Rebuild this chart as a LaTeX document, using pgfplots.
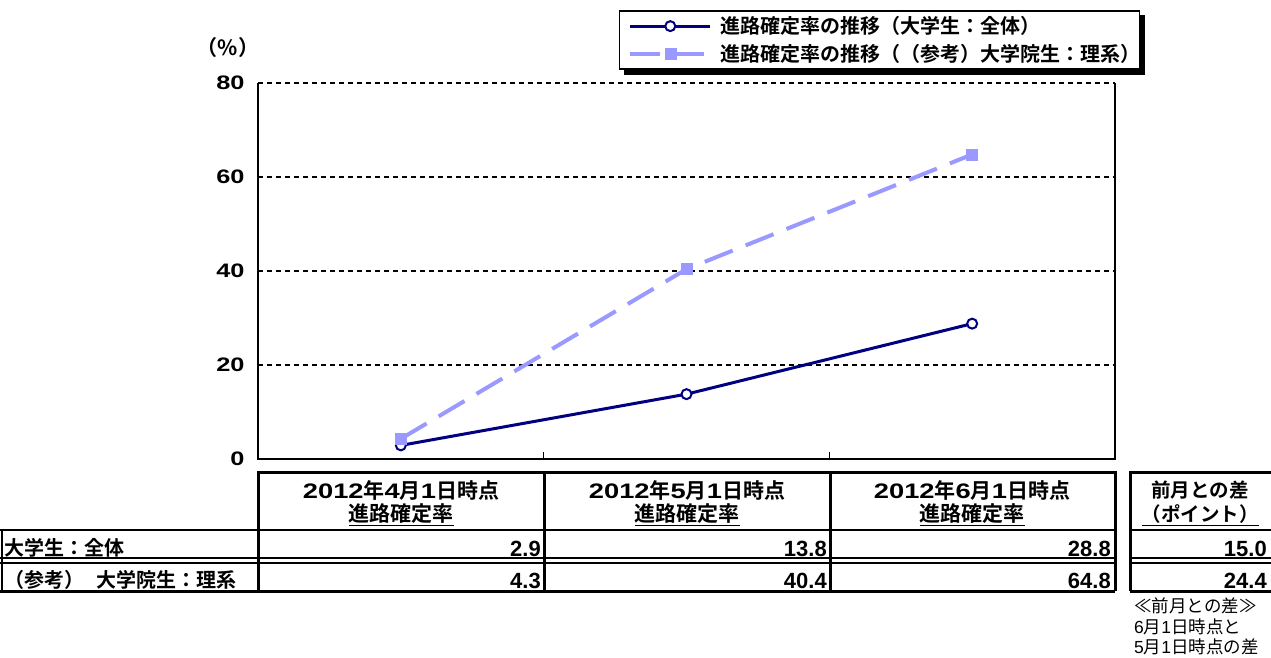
\documentclass[border=0pt]{standalone}
\usepackage{fontspec}
\setmainfont{Noto Sans CJK JP}[BoldFont={Noto Sans CJK JP Bold}]
\newfontfamily\lat{Liberation Sans}
\newfontfamily\latw{Liberation Sans}[FakeStretch=1.3]
\usepackage{pgfplots}
\pgfplotsset{compat=1.18}
\usetikzlibrary{backgrounds}
\definecolor{navy}{RGB}{0,0,128}
\definecolor{peri}{RGB}{153,153,255}
\newcommand{\hd}[2]{{\latw #1}年{\latw #2}月{\latw 1}日時点}

\begin{document}
\begin{tikzpicture}
\useasboundingbox (0,0) rectangle (1271pt,-657pt);
\begin{axis}[
  at={(258pt,-459pt)}, anchor=south west,
  scale only axis, width=857pt, height=376pt,
  xmin=-0.5, xmax=2.5, ymin=0, ymax=80,
  xtick={0.5,1.5}, xticklabels={}, xtick pos=lower,
  ytick={0,20,40,60,80}, ytick pos=left,
  major tick length=7pt, tick align=inside,
  xtick style={black, line width=1pt},
  ytick style={draw=none},
  axis line style={draw=none},
  ymajorgrids, grid style={black, line width=1.5pt, dash pattern=on 5pt off 4pt},
  yticklabel style={font=\latw\bfseries\fontsize{19.5}{22}\selectfont, xshift=-10pt},
  /pgf/number format/assume math mode=true,
  legend style={name=leg, at={(1.0292,1.1941)}, anchor=north east, draw=black, line width=1.5pt,
    fill=white, font=\bfseries\fontsize{20}{22}\selectfont, row sep=5pt,
    inner xsep=9pt, inner ysep=4pt, column sep=8pt, nodes={inner xsep=0pt}},
  legend cell align=left,
  legend image code/.code={\draw[mark repeat=2,mark phase=2,#1] plot coordinates {(0pt,0pt) (40pt,0pt) (80pt,0pt)};},
  clip=false,
]
\addplot[navy, line width=3pt, mark=*, mark size=5pt,
  mark options={solid, fill=white, draw=navy, line width=2pt}]
  coordinates {(0,2.9) (1,13.8) (2,28.8)};
\addplot[peri, line width=4pt, dash pattern=on 30pt off 14pt, mark=square*, mark size=5.5pt,
  mark options={solid, fill=peri, draw=peri, line width=0.5pt}]
  coordinates {(0,4.3) (1,40.4) (2,64.8)};
\legend{進路確定率の推移（大学生：全体）\kern-0.5em, 進路確定率の推移（（参考）大学院生：理系）\kern-0.5em}
\draw[black, line width=1.5pt] (rel axis cs:0,1) -- (rel axis cs:0,0) -- (rel axis cs:1,0) -- (rel axis cs:1,1);
\end{axis}
\begin{pgfonlayer}{background}
\fill[black] ([xshift=5pt,yshift=-5pt]leg.south west) rectangle ([xshift=5pt,yshift=-5pt]leg.north east);
\end{pgfonlayer}

\begin{scope}[x=1pt, y=-1pt, every node/.style={inner sep=0pt}]
% y axis unit
\node[font=\bfseries\fontsize{21}{23}\selectfont] at (228,48) {（\%）};
% table lines
\draw[line width=3pt] (258,591) -- (258,472) -- (1115,472) -- (1115,591);
\draw[line width=3pt] (544,472) -- (544,591);
\draw[line width=3pt] (830,472) -- (830,591);
\draw[line width=2pt] (0,530) -- (1115,530);
\draw[line width=2pt] (0,558) -- (1115,558);
\draw[line width=2pt] (0,563) -- (1115,563);
\draw[line width=3pt] (0,591) -- (1115,591);
\draw[line width=2pt] (1.5,530) -- (1.5,591);
\draw[line width=3pt] (1130,591) -- (1130,472) -- (1275,472);
\draw[line width=2pt] (1130,530) -- (1275,530);
\draw[line width=2pt] (1130,558) -- (1275,558);
\draw[line width=2pt] (1130,563) -- (1275,563);
\draw[line width=3pt] (1130,591) -- (1275,591);
% header
\begin{scope}[every node/.append style={font=\bfseries\fontsize{21}{23}\selectfont}]
\node at (401,490) {\hd{2012}{4}};
\node at (401,515) {\underline{進路確定率}};
\node at (687,490) {\hd{2012}{5}};
\node at (687,515) {\underline{進路確定率}};
\node at (972,490) {\hd{2012}{6}};
\node at (972,515) {\underline{進路確定率}};
\node[font=\bfseries\fontsize{19.5}{22}\selectfont] at (1200,490) {前月との差};
\node[font=\bfseries\fontsize{19.5}{22}\selectfont] at (1200,515) {\underline{（ポイント）}};
\end{scope}
% rows
\begin{scope}[every node/.append style={font=\bfseries\fontsize{20}{22}\selectfont}]
\node[anchor=base west] at (4,555) {大学生：全体};
\node[anchor=base west] at (4,587) {（参考）\hspace{0.6em}大学院生：理系};
\end{scope}
\begin{scope}[every node/.append style={font=\lat\bfseries\fontsize{22}{24}\selectfont, anchor=base east}]
\node at (541,556) {2.9};
\node at (827,556) {13.8};
\node at (1111,556) {28.8};
\node at (1267,556) {15.0};
\node at (541,588) {4.3};
\node at (827,588) {40.4};
\node at (1111,588) {64.8};
\node at (1267,588) {24.4};
\end{scope}
% note
\begin{scope}[every node/.append style={font=\fontsize{17.5}{20}\selectfont, anchor=west}]
\node at (1134,606) {≪前月との差≫};
\node at (1134,627) {{\lat 6}月{\lat 1}日時点と};
\node at (1134,647) {{\lat 5}月{\lat 1}日時点の差};
\end{scope}
\end{scope}
\end{tikzpicture}
\end{document}
